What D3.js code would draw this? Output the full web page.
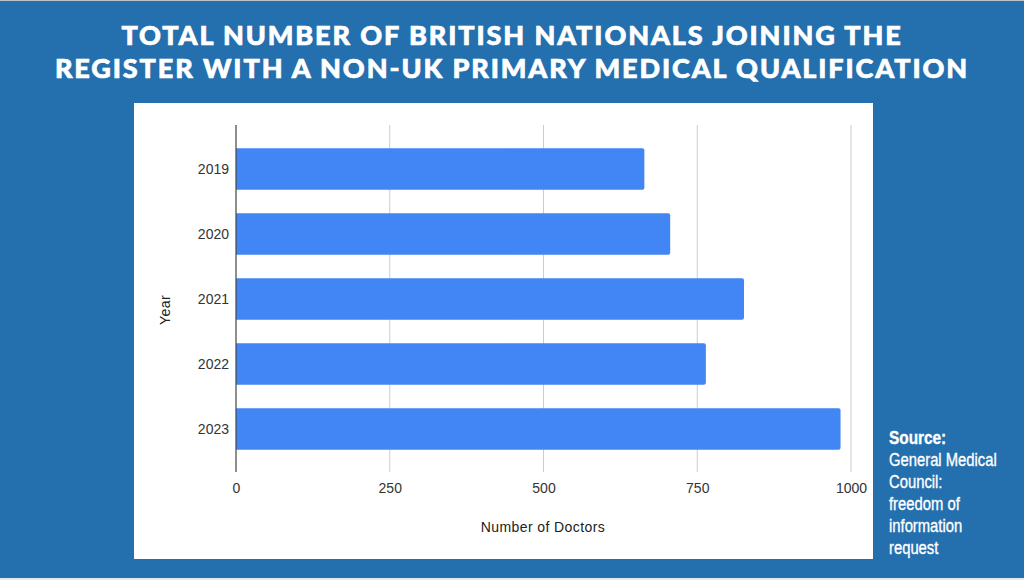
<!DOCTYPE html>
<html>
<head>
<meta charset="utf-8">
<script src="https://cdn.jsdelivr.net/npm/d3@7"></script>
<style>
  html, body { margin: 0; padding: 0; background: #2470ae; }
  svg { display: block; }
  text { font-family: "Liberation Sans", Arial, sans-serif; fill: #222; }
  .title { font-family: Lato, sans-serif; font-weight: 900; font-size: 27px; letter-spacing: 1.9px; fill: #fff; stroke: #fff; stroke-width: 0.7px; text-anchor: middle; }
  .source { font-size: 19px; fill: #fff; stroke: #fff; stroke-width: 0.35px; }
  .tick text { font-size: 14px; fill: #333; font-family: "Liberation Sans", Arial, sans-serif; }
  .axis-title { font-size: 14px; letter-spacing: 0.4px; fill: #222; }
</style>
</head>
<body>
<svg id="chart" width="1024" height="580"></svg>
<script>
var years = ["2019", "2020", "2021", "2022", "2023"];
var doctors = [664, 706, 826, 764, 983];
var xTicks = [0, 250, 500, 750, 1000];
var titleLines = ["TOTAL NUMBER OF BRITISH NATIONALS JOINING THE", "REGISTER WITH A NON-UK PRIMARY MEDICAL QUALIFICATION"];
var sourceLines = ["General Medical", "Council:", "freedom of", "information", "request"];

var svg = d3.select("#chart");

// page background and the thin light strips at top and bottom
svg.append("rect").attr("width", 1024).attr("height", 580).attr("fill", "#2470ae");
svg.append("rect").attr("width", 1024).attr("height", 1).attr("fill", "#b9c4cc");
svg.append("rect").attr("y", 578).attr("width", 1024).attr("height", 2).attr("fill", "#e3e9ee");

svg.selectAll(".title")
    .data(titleLines)
    .enter().append("text")
    .attr("class", "title")
    .attr("x", 512)
    .attr("y", function (d, i) { return 45 + i * 33; })
    .text(function (d) { return d; });

// white panel
svg.append("rect")
    .attr("x", 134).attr("y", 103)
    .attr("width", 739).attr("height", 456)
    .attr("fill", "#fff");

var x = d3.scaleLinear()
    .domain([0, 1000])
    .range([236, 851]);

var y = d3.scaleBand()
    .domain(years)
    .range([136.5, 461.5])
    .paddingInner(0.36)
    .paddingOuter(0.18);

var plotTop = 125, plotBottom = 472;

// gridlines
svg.append("g")
    .selectAll("line")
    .data(xTicks.slice(1))
    .enter().append("line")
    .attr("x1", function (d) { return x(d); })
    .attr("x2", function (d) { return x(d); })
    .attr("y1", plotTop)
    .attr("y2", plotBottom)
    .attr("stroke", "#cccccc")
    .attr("stroke-width", 1);

// bars, square on the axis side and slightly rounded at the end
svg.append("g")
    .selectAll("path")
    .data(doctors)
    .enter().append("path")
    .attr("fill", "#4285f4")
    .attr("d", function (d, i) {
        var x0 = x(0), x1 = x(d), y0 = y(years[i]), h = y.bandwidth(), r = 2;
        return "M" + x0 + "," + y0 + "H" + (x1 - r) + "Q" + x1 + "," + y0 + " " + x1 + "," + (y0 + r) +
            "V" + (y0 + h - r) + "Q" + x1 + "," + (y0 + h) + " " + (x1 - r) + "," + (y0 + h) + "H" + x0 + "Z";
    });

// axes
var xAxis = svg.append("g")
    .attr("transform", "translate(0," + plotBottom + ")")
    .call(d3.axisBottom(x).tickValues(xTicks).tickSize(0).tickPadding(11).tickFormat(d3.format("d")));
xAxis.select(".domain").remove();

var yAxis = svg.append("g")
    .attr("transform", "translate(236,1)")
    .call(d3.axisLeft(y).tickSize(0).tickPadding(7));
yAxis.select(".domain").remove();

svg.append("line")
    .attr("x1", x(0)).attr("x2", x(0))
    .attr("y1", plotTop).attr("y2", plotBottom)
    .attr("stroke", "#444")
    .attr("stroke-width", 1.2);

svg.append("text")
    .attr("class", "axis-title")
    .attr("x", 543).attr("y", 532)
    .attr("text-anchor", "middle")
    .text("Number of Doctors");

svg.append("text")
    .attr("class", "axis-title")
    .attr("transform", "translate(170,310) rotate(-90)")
    .attr("text-anchor", "middle")
    .text("Year");

// source note, squeezed sideways because no condensed face is available
svg.append("text")
    .attr("class", "source")
    .attr("transform", "translate(889,444) scale(0.81,1)")
    .style("font-weight", "bold")
    .text("Source:");

svg.selectAll(".source-line")
    .data(sourceLines)
    .enter().append("text")
    .attr("class", "source source-line")
    .attr("transform", function (d, i) { return "translate(889," + (466 + i * 22) + ") scale(0.78,1)"; })
    .text(function (d) { return d; });
</script>
</body>
</html>
